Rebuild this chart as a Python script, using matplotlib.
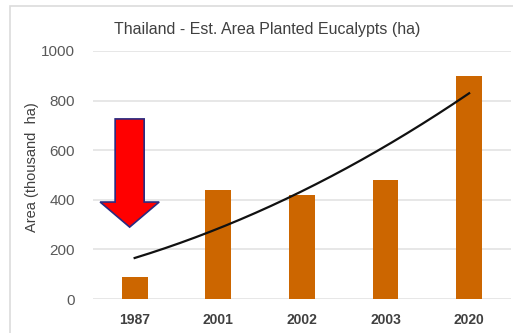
import numpy as np
import matplotlib
matplotlib.use("Agg")
import matplotlib.pyplot as plt
from matplotlib.patches import FancyArrow, Rectangle

years = ["1987", "2001", "2002", "2003", "2020"]
area = [90, 440, 420, 480, 900]
yticks = [0, 200, 400, 600, 800, 1000]

font = "Liberation Sans"

fig = plt.figure(figsize=(5.13, 3.33), dpi=100)
ax = fig.add_axes([0.181, 0.102, 0.815, 0.745])

# outer chart frame
fig.patches.append(Rectangle((10 / 513, -0.05), 1.1, (333 - 6) / 333 + 0.05,
                             transform=fig.transFigure, fill=False,
                             edgecolor="#dcdcdc", linewidth=1.2))

x = np.arange(len(years))
ax.bar(x, area, width=0.31, color="#cc6600", zorder=3)

# polynomial (order 2) trendline over the bars
coef = np.polyfit(x + 1, area, 2)
xs = np.linspace(0, len(years) - 1, 200)
ax.plot(xs, np.polyval(coef, xs + 1), color="#111111", linewidth=1.6, zorder=4)

# big red arrow pointing at the 1987 bar
ax.add_patch(FancyArrow(-0.06, 726, 0, -436, width=0.347, head_width=0.706,
                        head_length=101, length_includes_head=True,
                        facecolor="#ff0000", edgecolor="#2a2a80",
                        linewidth=1.2, zorder=5))

ax.set_xlim(-0.5, len(years) - 0.5)
ax.set_ylim(0, 1000)
ax.set_yticks(yticks)
ax.set_yticklabels([str(v) for v in yticks], fontsize=11, color="#595959",
                   family=font)
ax.set_xticks(x)
ax.set_xticklabels(years, fontsize=10, fontweight="bold", color="#404040",
                   family=font)
ax.tick_params(length=0, pad=10)
ax.tick_params(axis="y", pad=13)
ax.yaxis.grid(True, color="#e3e3e3", linewidth=1.2, zorder=0)
for s in ax.spines.values():
    s.set_visible(False)

ax.set_ylabel("Area (thousand  ha)", fontsize=10.5, color="#404040",
              family=font)
ax.yaxis.set_label_coords(-0.13, 0.53)

fig.text(0.52, 0.91, "Thailand - Est. Area Planted Eucalypts (ha)",
         fontsize=11.5, color="#404040", family=font, ha="center", va="center")

fig.savefig("out.png", dpi=100)
